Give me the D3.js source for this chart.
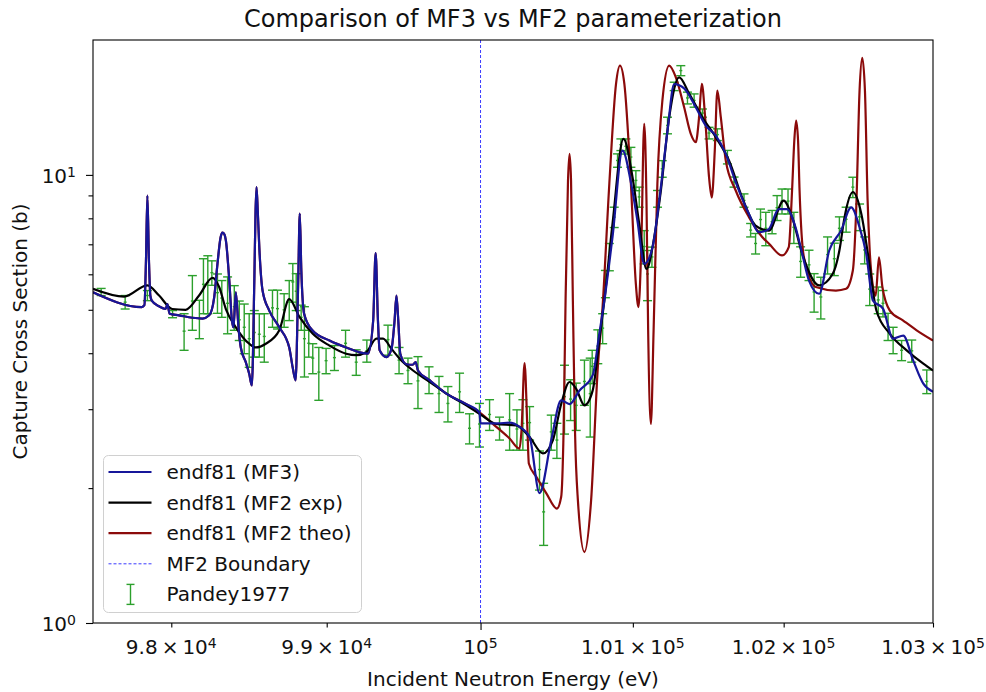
<!DOCTYPE html>
<html>
<head>
<meta charset="utf-8">
<script src="https://cdn.jsdelivr.net/npm/d3@7"></script>
<style>
  body { margin: 0; background: #fff; }
  text { font-family: "DejaVu Sans", sans-serif; fill: #111; }
</style>
</head>
<body>
<svg id="chart" width="986" height="692"></svg>
<script>
// ---- axis ranges and ticks ----
const xDomain = [97500, 103000];
const yDomain = [1, 20];
const xTickValues = [98000, 99000, 100000, 101000, 102000, 103000];
const xTickMantissa = ["9.8", "9.9", "", "1.01", "1.02", "1.03"];
const xTickExponent = ["4", "4", "5", "5", "5", "5"];
const xMajorTicks = [100000];
const yMajorTicks = [1, 10];
const yMajorExponent = ["0", "1"];
const yMinorTicks = [2, 3, 4, 5, 6, 7, 8, 9];
const boundaryEnergy = 100000;

// ---- evaluated capture cross sections [energy (eV), sigma (b)] ----
const mf3 = [
  [97500,5.47],[97811,5.07],[97828,5.12],[97838,6.44],[97847,8.99],[97857,6.44],[97866,5.38],[97875,5.24],
  [97922,5.09],[97964,5.02],[97975,5.15],[97989,4.90],[98050,4.86],[98135,4.80],[98200,4.78],[98243,4.86],
  [98275,5.33],[98296,6.33],[98316,7.25],[98328,7.43],[98341,7.36],[98350,7.14],[98372,5.81],[98389,4.73],
  [98399,4.57],[98414,5.47],[98431,4.57],[98446,4.12],[98478,3.82],[98500,3.60],[98517,3.39],[98533,5.81],
  [98541,8.32],[98547,9.39],[98555,8.32],[98565,6.90],[98586,5.52],[98629,4.98],[98694,4.57],[98758,4.12],
  [98780,3.72],[98799,3.48],[98816,5.81],[98826,8.20],[98836,6.12],[98854,4.90],[98907,4.50],[99018,4.27],
  [99126,4.12],[99267,3.99],[99301,4.73],[99317,6.69],[99332,4.73],[99343,4.06],[99387,3.92],[99420,4.09],
  [99440,4.73],[99452,5.38],[99464,4.73],[99477,3.99],[99517,3.78],[99558,3.77],[99577,3.82],[99592,3.66],
  [99669,3.48],[99777,3.25],[99907,3.08],[99993,2.95],[100000,2.79],[100113,2.79],[100190,2.80],[100255,2.74],
  [100321,2.60],[100386,1.95],[100463,2.56],[100528,3.14],[100583,3.08],[100648,3.30],[100735,3.57],[100779,4.42],
  [100812,5.24],[100866,7.27],[100932,11.33],[100987,9.63],[101030,7.91],[101075,6.33],[101130,6.90],[101174,8.76],
  [101229,12.56],[101273,15.95],[101339,15.60],[101416,14.16],[101482,12.88],[101549,12.24],[101615,11.14],[101681,9.63],
  [101769,8.18],[101835,7.45],[101901,7.57],[101967,8.39],[102022,8.39],[102079,7.64],[102124,6.66],[102169,5.81],
  [102237,5.43],[102304,6.78],[102383,7.51],[102451,8.46],[102507,7.64],[102552,6.66],[102597,5.24],[102664,5.03],
  [102732,4.31],[102800,4.38],[102867,3.85],[102935,3.42],[103000,3.28]
];

const mf2Exp = [
  [97500,5.57],[97699,5.35],[97847,5.67],[97922,5.38],[98006,5.02],[98092,5.00],[98178,5.38],[98264,5.89],
  [98307,5.62],[98350,5.02],[98414,4.57],[98500,4.20],[98543,4.12],[98607,4.20],[98694,4.50],[98758,5.28],
  [98824,4.82],[98910,4.42],[99018,4.16],[99126,3.99],[99191,3.96],[99256,4.02],[99322,4.31],[99365,4.31],
  [99420,4.09],[99473,3.89],[99560,3.66],[99669,3.45],[99777,3.25],[99907,3.06],[100005,2.91],[100103,2.78],
  [100234,2.76],[100321,2.60],[100408,2.39],[100474,2.56],[100528,3.08],[100583,3.45],[100627,3.33],[100681,3.06],
  [100735,3.30],[100779,4.27],[100812,5.24],[100866,7.78],[100938,12.03],[100997,9.92],[101042,7.78],[101090,6.17],
  [101141,7.25],[101185,9.23],[101240,13.45],[101306,16.51],[101372,15.19],[101460,13.45],[101549,12.13],[101637,10.76],
  [101724,8.90],[101813,7.71],[101901,7.51],[102000,8.76],[102056,8.05],[102124,6.66],[102237,5.67],[102327,6.01],
  [102372,6.78],[102406,8.03],[102462,9.15],[102519,8.18],[102563,6.66],[102620,4.98],[102710,4.42],[102823,4.06],
  [102935,3.79],[103000,3.66]
];

// theoretical MF2 curve above the boundary (below it the curve follows MF3)
const mf2TheoAbove = [
  [100103,2.74],[100190,2.58],[100255,2.45],[100268,2.69],[100288,3.80],[100307,2.69],[100316,2.27],[100365,2.12],
  [100430,1.95],[100500,1.80],[100528,1.91],[100544,2.69],[100557,5.24],[100573,9.71],[100583,11.14],[100593,9.71],
  [100605,5.24],[100619,2.69],[100638,1.88],[100681,1.44],[100725,1.88],[100769,3.72],[100801,5.11],[100845,9.57],
  [100889,15.96],[100915,17.53],[100944,15.96],[100987,9.57],[101020,5.70],[101037,5.07],[101055,6.78],[101075,13.0],
  [101090,8.76],[101101,4.50],[101119,2.78],[101137,4.50],[101162,9.57],[101195,14.64],[101240,17.53],[101284,16.51],
  [101339,14.16],[101383,12.35],[101416,11.83],[101438,13.45],[101456,15.96],[101478,13.45],[101504,9.88],[101522,8.90],
  [101542,11.33],[101559,15.42],[101582,13.45],[101615,10.76],[101681,9.23],[101769,8.05],[101857,7.27],[101901,7.03],
  [101989,6.61],[102034,6.90],[102056,9.23],[102071,11.93],[102083,13.22],[102096,11.93],[102106,9.23],[102135,6.55],
  [102214,5.62],[102349,5.52],[102417,5.57],[102462,6.12],[102485,8.46],[102507,15.42],[102525,18.25],[102543,15.42],
  [102561,8.76],[102575,6.78],[102597,5.62],[102615,5.38],[102637,6.55],[102660,5.62],[102710,4.98],[102800,4.73],
  [102890,4.50],[103000,4.27]
];
const mf2Theo = mf3.filter(d => d[0] < boundaryEnergy).concat(mf2TheoAbove);

// ---- Pandey 1977 measurement [energy (eV), sigma (b), error (b)] ----
const pandey1977 = [
  [97552,5.48,0.10],[97705,5.20,0.18],[97847,5.38,0.14],[98008,4.89,0.09],[98082,4.48,0.42],[98135,5.23,0.73],
  [98180,4.78,0.47],[98206,5.70,0.80],[98234,5.75,0.85],[98260,6.05,0.38],[98296,5.46,0.55],[98324,5.31,0.50],
  [98361,5.17,0.75],[98404,5.08,0.58],[98436,4.75,0.48],[98468,4.57,0.58],[98500,4.31,0.59],[98533,4.45,0.53],
  [98565,4.41,0.49],[98597,4.36,0.54],[98650,5.05,0.48],[98682,5.03,0.50],[98725,5.00,0.43],[98758,5.27,0.54],
  [98781,5.77,0.57],[98803,5.50,0.52],[98835,4.81,0.31],[98856,4.31,0.77],[98884,4.21,0.29],[98910,3.90,0.30],
  [98949,3.63,0.49],[98996,3.85,0.25],[99050,3.91,0.25],[99122,4.21,0.29],[99191,3.82,0.25],[99260,4.05,0.23],
  [99397,4.29,0.33],[99469,3.86,0.26],[99527,3.66,0.24],[99592,3.47,0.46],[99664,3.49,0.24],[99729,3.25,0.30],
  [99787,3.09,0.28],[99863,3.28,0.33],[99928,2.72,0.21],[99993,2.78,0.31],[100059,2.92,0.23],[100124,2.72,0.16],
  [100190,2.84,0.41],[100238,2.71,0.28],[100277,2.79,0.36],[100321,2.80,0.24],[100386,2.20,0.22],[100413,1.77,0.28],
  [100463,2.67,0.24],[100500,2.56,0.23],[100550,3.20,0.56],[100590,3.16,0.33],[100627,3.06,0.37],[100681,3.46,0.40],
  [100719,3.25,0.65],[100732,3.74,0.32],[100769,4.15,0.36],[100801,4.55,0.35],[100819,5.72,0.40],[100845,6.57,0.46],
  [100877,8.05,0.42],[100899,10.77,0.37],[100921,11.68,0.35],[100954,11.58,0.45],[100987,10.96,0.56],[101020,9.72,0.50],
  [101042,8.93,0.46],[101075,6.92,0.59],[101097,6.01,0.77],[101126,6.56,0.34],[101163,8.85,0.38],[101194,10.32,0.44],
  [101229,12.90,0.55],[101273,15.76,0.34],[101317,17.09,0.44],[101361,14.85,0.45],[101405,14.66,0.50],[101460,13.74,0.29],
  [101504,12.40,0.37],[101559,12.30,0.37],[101626,10.96,0.38],[101670,9.64,0.25],[101736,8.77,0.30],[101780,7.53,0.26],
  [101813,7.03,0.37],[101846,7.95,0.44],[101881,7.60,0.65],[101923,7.86,0.47],[101956,8.45,0.54],[101989,8.74,0.56],
  [102029,8.74,0.56],[102068,7.64,0.61],[102113,6.41,0.50],[102169,6.30,0.49],[102203,5.48,0.54],[102248,5.34,0.57],
  [102293,6.64,0.63],[102338,6.50,0.54],[102372,7.60,0.46],[102417,7.96,0.51],[102462,9.39,0.49],[102507,8.06,0.55],
  [102541,6.80,0.47],[102575,5.56,0.45],[102632,5.26,0.36],[102664,5.17,0.35],[102698,4.59,0.32],[102732,4.28,0.29],
  [102789,4.06,0.21],[102857,4.05,0.23],[102958,3.46,0.21]
];

const seriesNames = ["endf81 (MF3)", "endf81 (MF2 exp)", "endf81 (MF2 theo)", "MF2 Boundary", "Pandey1977"];
const seriesColors = ["#16169a", "#000000", "#8b0a0a", "#3b3bff", "#2ca02c"];

// ---- layout ----
const FS = 20;
const plot = { left: 93, right: 933, top: 40, bottom: 623 };
const svg = d3.select("#chart");

const x = d3.scaleLog().domain(xDomain).range([plot.left, plot.right]);
const y = d3.scaleLog().domain(yDomain).range([plot.bottom, plot.top]);

svg.append("defs").append("clipPath").attr("id", "plot-clip")
  .append("rect")
  .attr("x", plot.left).attr("y", plot.top)
  .attr("width", plot.right - plot.left).attr("height", plot.bottom - plot.top);

const body = svg.append("g").attr("clip-path", "url(#plot-clip)");

// measurement error bars (drawn first, beneath the curves)
const capHalf = 4.5;
const eb = body.append("g").attr("stroke", seriesColors[4]).attr("stroke-width", 1.4).attr("fill", "none");
pandey1977.forEach(([e, s, ds]) => {
  const px = x(e), yt = y(s + ds), yb = y(s - ds);
  eb.append("line").attr("x1", px).attr("x2", px).attr("y1", yt).attr("y2", yb);
  eb.append("line").attr("x1", px - capHalf).attr("x2", px + capHalf).attr("y1", yt).attr("y2", yt);
  eb.append("line").attr("x1", px - capHalf).attr("x2", px + capHalf).attr("y1", yb).attr("y2", yb);
  eb.append("line").attr("x1", px - 1.5).attr("x2", px + 1.5).attr("y1", y(s)).attr("y2", y(s));
});

// MF2 boundary
body.append("line")
  .attr("x1", x(boundaryEnergy)).attr("x2", x(boundaryEnergy))
  .attr("y1", plot.top).attr("y2", plot.bottom)
  .attr("stroke", seriesColors[3]).attr("stroke-width", 1).attr("stroke-dasharray", "3,2");

const line = d3.line().x(d => x(d[0])).y(d => y(d[1])).curve(d3.curveMonotoneX);

body.append("path").datum(mf2Theo).attr("d", line)
  .attr("fill", "none").attr("stroke", seriesColors[2]).attr("stroke-width", 2.2).attr("stroke-linejoin", "round");
body.append("path").datum(mf2Exp).attr("d", line)
  .attr("fill", "none").attr("stroke", seriesColors[1]).attr("stroke-width", 2.2).attr("stroke-linejoin", "round");
body.append("path").datum(mf3).attr("d", line)
  .attr("fill", "none").attr("stroke", seriesColors[0]).attr("stroke-width", 2.2).attr("stroke-linejoin", "round");

// ---- axes ----
const axisG = svg.append("g");
const xMinorTicks = xTickValues.filter(v => !xMajorTicks.includes(v));

axisG.append("g").attr("transform", `translate(0,${plot.bottom})`)
  .call(d3.axisBottom(x).tickValues(xMajorTicks).tickSize(7).tickSizeOuter(0).tickFormat(""))
  .call(g => g.select(".domain").remove());
axisG.append("g").attr("transform", `translate(0,${plot.bottom})`)
  .call(d3.axisBottom(x).tickValues(xMinorTicks).tickSize(4.5).tickSizeOuter(0).tickFormat(""))
  .call(g => g.select(".domain").remove());
axisG.append("g").attr("transform", `translate(${plot.left},0)`)
  .call(d3.axisLeft(y).tickValues(yMajorTicks).tickSize(7).tickSizeOuter(0).tickFormat(""))
  .call(g => g.select(".domain").remove());
axisG.append("g").attr("transform", `translate(${plot.left},0)`)
  .call(d3.axisLeft(y).tickValues(yMinorTicks).tickSize(4.5).tickSizeOuter(0).tickFormat(""))
  .call(g => g.select(".domain").remove());
axisG.selectAll(".tick line").attr("stroke", "#000").attr("stroke-width", 1.1);

// x tick labels (scientific notation)
xTickValues.forEach((v, i) => {
  const t = svg.append("text").attr("x", x(v)).attr("y", plot.bottom + 31)
    .attr("text-anchor", "middle").attr("font-size", FS);
  const mant = xTickMantissa[i];
  t.append("tspan").text(mant ? `${mant}\u2009\u00d7\u200910` : "10");
  t.append("tspan").attr("dy", "-0.45em").attr("font-size", "70%").text(xTickExponent[i]);
});

// y tick labels
yMajorTicks.forEach((v, i) => {
  const t = svg.append("text").attr("x", plot.left - 17).attr("y", y(v) + 8)
    .attr("text-anchor", "end").attr("font-size", FS);
  t.append("tspan").text("10");
  t.append("tspan").attr("dy", "-0.45em").attr("font-size", "70%").text(yMajorExponent[i]);
});

// frame
svg.append("rect")
  .attr("x", plot.left).attr("y", plot.top)
  .attr("width", plot.right - plot.left).attr("height", plot.bottom - plot.top)
  .attr("fill", "none").attr("stroke", "#000").attr("stroke-width", 1.1);

// titles
svg.append("text").attr("x", (plot.left + plot.right) / 2).attr("y", 27)
  .attr("text-anchor", "middle").attr("font-size", FS * 1.2)
  .text("Comparison of MF3 vs MF2 parameterization");
svg.append("text").attr("x", (plot.left + plot.right) / 2).attr("y", 686)
  .attr("text-anchor", "middle").attr("font-size", FS)
  .text("Incident Neutron Energy (eV)");
svg.append("text").attr("transform", `translate(27,${(plot.top + plot.bottom) / 2}) rotate(-90)`)
  .attr("text-anchor", "middle").attr("font-size", FS)
  .text("Capture Cross Section (b)");

// ---- legend ----
const leg = svg.append("g").attr("transform", "translate(103.5,455.5)");
leg.append("rect").attr("width", 258).attr("height", 157).attr("rx", 5)
  .attr("fill", "#fff").attr("fill-opacity", 0.8).attr("stroke", "#d0d0d0").attr("stroke-width", 1);
const rowY = i => 16.5 + i * 30.6;
seriesNames.forEach((name, i) => {
  const yy = rowY(i);
  if (i < 3) {
    leg.append("line").attr("x1", 5).attr("x2", 48).attr("y1", yy).attr("y2", yy)
      .attr("stroke", seriesColors[i]).attr("stroke-width", 2.2);
  } else if (i === 3) {
    leg.append("line").attr("x1", 5).attr("x2", 48).attr("y1", yy).attr("y2", yy)
      .attr("stroke", seriesColors[i]).attr("stroke-width", 1).attr("stroke-dasharray", "3,2");
  } else {
    const g = leg.append("g").attr("stroke", seriesColors[i]).attr("stroke-width", 1.4);
    g.append("line").attr("x1", 27).attr("x2", 27).attr("y1", yy - 10).attr("y2", yy + 10);
    g.append("line").attr("x1", 23).attr("x2", 31).attr("y1", yy - 10).attr("y2", yy - 10);
    g.append("line").attr("x1", 23).attr("x2", 31).attr("y1", yy + 10).attr("y2", yy + 10);
  }
  leg.append("text").attr("x", 63).attr("y", yy + 7).attr("font-size", FS).text(name);
});
</script>
</body>
</html>
